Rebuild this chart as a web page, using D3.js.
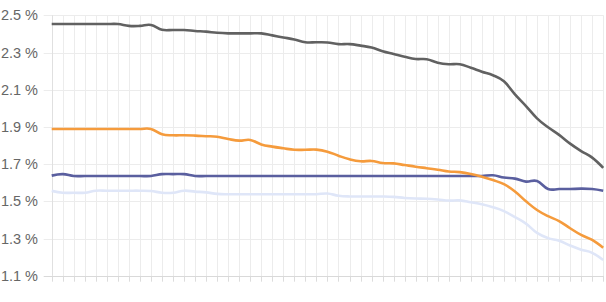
<!DOCTYPE html>
<html>
<head>
<meta charset="utf-8">
<script src="https://cdn.jsdelivr.net/npm/d3@7"></script>
<style>
  html, body { margin: 0; padding: 0; background: #fff; }
  svg { display: block; }
  text { font-family: "Liberation Sans", Arial, Helvetica, sans-serif; }
</style>
</head>
<body>
<svg id="chart" width="606" height="302"></svg>
<script>
// ---- data ----
const categories = d3.range(51);
const yTicks = [1.1, 1.3, 1.5, 1.7, 1.9, 2.1, 2.3, 2.5];
const seriesGray = [2.453,2.453,2.453,2.453,2.453,2.453,2.453,2.443,2.443,2.448,2.422,2.421,2.421,2.416,2.412,2.406,2.403,2.403,2.403,2.403,2.392,2.381,2.37,2.355,2.355,2.354,2.345,2.345,2.337,2.327,2.307,2.292,2.277,2.265,2.264,2.245,2.237,2.237,2.218,2.197,2.178,2.145,2.075,2.012,1.946,1.898,1.857,1.81,1.77,1.735,1.68];
const seriesOrange = [1.889,1.889,1.889,1.889,1.889,1.889,1.889,1.889,1.889,1.889,1.86,1.855,1.855,1.853,1.85,1.847,1.835,1.826,1.83,1.806,1.794,1.785,1.777,1.777,1.778,1.767,1.745,1.726,1.715,1.717,1.706,1.704,1.695,1.686,1.678,1.67,1.66,1.657,1.647,1.632,1.614,1.592,1.553,1.5,1.453,1.42,1.394,1.355,1.319,1.292,1.25];
const seriesBlue = [1.638,1.646,1.636,1.636,1.636,1.636,1.636,1.636,1.636,1.636,1.646,1.646,1.646,1.636,1.636,1.636,1.636,1.636,1.636,1.636,1.636,1.636,1.636,1.636,1.636,1.636,1.636,1.636,1.636,1.636,1.636,1.636,1.636,1.636,1.636,1.636,1.636,1.636,1.636,1.636,1.64,1.628,1.622,1.606,1.609,1.566,1.566,1.566,1.568,1.566,1.557];
const seriesLight = [1.556,1.546,1.546,1.546,1.557,1.557,1.557,1.557,1.557,1.555,1.546,1.546,1.557,1.552,1.548,1.54,1.538,1.538,1.538,1.538,1.538,1.538,1.538,1.538,1.538,1.542,1.53,1.526,1.526,1.526,1.526,1.524,1.518,1.515,1.514,1.51,1.504,1.505,1.495,1.484,1.468,1.447,1.415,1.38,1.33,1.302,1.288,1.262,1.24,1.223,1.184];

const series = [
  { name: "light",  values: seriesLight,  color: "#dfe6f8" },
  { name: "blue",   values: seriesBlue,   color: "#5a5f9f" },
  { name: "orange", values: seriesOrange, color: "#f59b3c" },
  { name: "gray",   values: seriesGray,   color: "#616161" }
];

// ---- layout ----
const svg = d3.select("#chart");
const plotLeft = 51.7, plotRight = 603.2, plotTop = 15.3, plotBottom = 275.7;

const x = d3.scalePoint().domain(categories).range([plotLeft, plotRight]);
const y = d3.scaleLinear().domain([1.1, 2.5]).range([plotBottom, plotTop]);

const grid = svg.append("g");
// vertical gridlines
grid.selectAll("line.v").data(categories).join("line")
  .attr("x1", d => Math.round(x(d)) + 0.5).attr("x2", d => Math.round(x(d)) + 0.5)
  .attr("y1", plotTop).attr("y2", plotBottom)
  .attr("stroke", "#ececec").attr("stroke-width", 1);
// bottom tick marks
grid.selectAll("line.t").data(categories).join("line")
  .attr("x1", d => Math.round(x(d)) + 0.5).attr("x2", d => Math.round(x(d)) + 0.5)
  .attr("y1", plotBottom).attr("y2", plotBottom + 6)
  .attr("stroke", "#dcdcdc").attr("stroke-width", 1);
// horizontal gridlines
grid.selectAll("line.h").data(yTicks).join("line")
  .attr("x1", plotLeft - 8).attr("x2", plotRight)
  .attr("y1", d => Math.round(y(d)) + 0.5).attr("y2", d => Math.round(y(d)) + 0.5)
  .attr("stroke", d => d === 1.1 ? "#d9d9d9" : "#ececec").attr("stroke-width", 1);
// left axis line
grid.append("line")
  .attr("x1", Math.round(plotLeft) + 0.5).attr("x2", Math.round(plotLeft) + 0.5)
  .attr("y1", plotTop).attr("y2", plotBottom)
  .attr("stroke", "#e0e0e0");

// y labels
svg.append("g").selectAll("text").data(yTicks).join("text")
  .attr("x", 38).attr("y", d => y(d))
  .attr("text-anchor", "end").attr("dominant-baseline", "central")
  .attr("font-size", 14.5).attr("fill", "#666")
  .text(d => d3.format(".1f")(d) + " %");

// lines
const line = d3.line()
  .x((d, i) => x(categories[i]))
  .y(d => y(d))
  .curve(d3.curveCardinal.tension(-0.2));

svg.append("g").selectAll("path").data(series).join("path")
  .attr("d", d => line(d.values))
  .attr("fill", "none")
  .attr("stroke", d => d.color)
  .attr("stroke-width", 2.6)
  .attr("stroke-linejoin", "round");
</script>
</body>
</html>
